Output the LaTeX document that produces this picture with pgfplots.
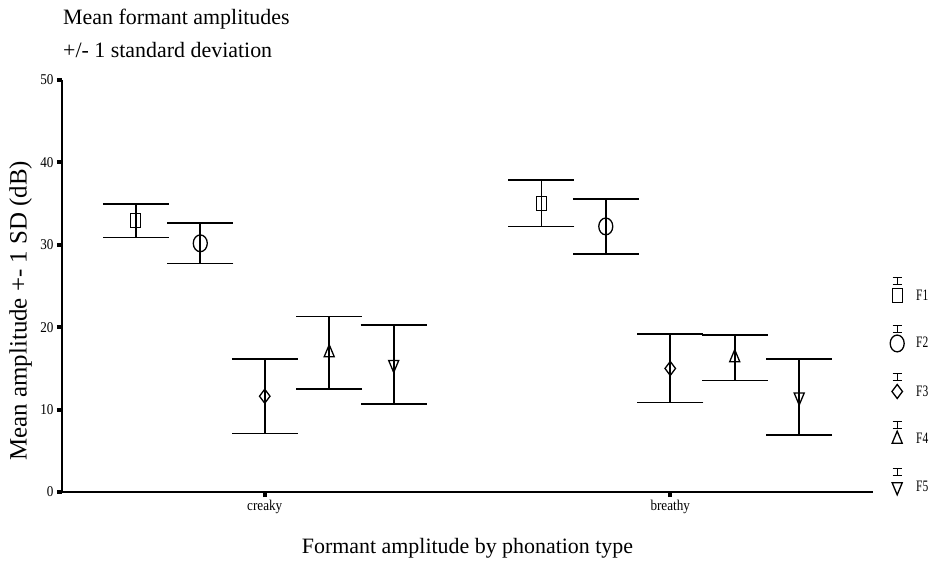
\documentclass[border=0pt]{standalone}
\usepackage{fontspec}
\setmainfont{Liberation Serif}
\newfontfamily\narrowfont[FakeStretch=0.88]{Liberation Serif}
\newfontfamily\legfont[FakeStretch=0.72]{Liberation Serif}
\usepackage{pgfplots}
\pgfplotsset{compat=1.18}

% legend entry: small error bar above the marker
\pgfplotsset{
  ibeam legend/.style={
    legend image code/.code={
      \draw[black, line width=1.3bp] (-4.5bp,11bp)--(4.5bp,11bp) (0bp,11bp)--(0bp,18bp) (-4.5bp,18bp)--(4.5bp,18bp);
      \draw[##1] plot coordinates {(0bp,0bp)};
    }
  }
}

\begin{document}
\begin{tikzpicture}
\path[use as bounding box] (-62bp,-73bp) rectangle (873bp,492bp);

\node[anchor=base west, inner sep=0pt, font=\fontsize{22}{22}\selectfont] at (1bp,467bp) {Mean formant amplitudes};
\node[anchor=base west, inner sep=0pt, font=\fontsize{22}{22}\selectfont] at (1bp,434bp) {+/- 1 standard deviation};

\begin{axis}[
    scale only axis,
    width=811bp,
    height=412bp,
    xmin=0.5, xmax=2.5,
    ymin=0, ymax=50,
    axis lines=left,
    axis line style={-, line width=1.6bp},
    xtick={1,2},
    xticklabels={creaky, breathy},
    ytick={0,10,20,30,40,50},
    tick align=outside,
    major tick length=5bp,
    tick style={line width=4bp, black},
    /pgf/number format/assume math mode=true,
    yticklabel style={font=\narrowfont\fontsize{15}{15}\selectfont},
    xticklabel style={font=\narrowfont\fontsize{15}{15}\selectfont},
    ylabel={Mean amplitude +- 1 SD (dB)},
    ylabel style={at={(axis description cs:-0.051,0.44)}, anchor=center, rotate=0, font=\fontsize{25}{25}\selectfont},
    xlabel={Formant amplitude by phonation type},
    xlabel style={at={(axis description cs:0.5,-0.136)}, anchor=center, font=\fontsize{22}{22}\selectfont},
    error bars/y dir=both,
    error bars/y explicit,
    error bars/error mark=-,
    error bars/error mark options={rotate=90, mark size=33bp, line width=1.6bp, black},
    error bars/error bar style={line width=1.6bp, black},
    ibeam legend,
    legend style={draw=none, fill=none, at={(rel axis cs:1,0)}, anchor=south west,
      xshift=14bp, yshift=-5bp, row sep=21bp, column sep=10bp,
      font=\legfont\fontsize{16}{16}\selectfont},
    legend cell align=left,
    clip=false,
]
\addplot[only marks, black, mark=square, mark options={solid, fill=none, line width=1.3bp, mark size=5bp, yscale=1.4}]
  coordinates {(0.682,32.93) +- (0,2.03) (1.682,35.03) +- (0,2.83)};
\addlegendentry{F1}
\addplot[only marks, black, mark=o, mark options={solid, fill=none, line width=1.3bp, mark size=7bp, yscale=1.2}]
  coordinates {(0.841,30.18) +- (0,2.43) (1.841,32.23) +- (0,3.33)};
\addlegendentry{F2}
\addplot[only marks, black, mark=diamond, mark options={solid, fill=none, line width=1.3bp, mark size=7bp}]
  coordinates {(1.000,11.63) +- (0,4.51) (2.000,14.99) +- (0,4.15)};
\addlegendentry{F3}
\addplot[only marks, black, mark=triangle, mark options={solid, fill=none, line width=1.3bp, mark size=5.8bp, yscale=1.38}]
  coordinates {(1.159,16.90) +- (0,4.39) (2.159,16.30) +- (0,2.75)};
\addlegendentry{F4}
\addplot[only marks, black, mark=triangle, mark options={solid, fill=none, line width=1.3bp, mark size=5.8bp, yscale=1.38, rotate=180}]
  coordinates {(1.318,15.48) +- (0,4.80) (2.318,11.53) +- (0,4.61)};
\addlegendentry{F5}
\end{axis}
\end{tikzpicture}
\end{document}
